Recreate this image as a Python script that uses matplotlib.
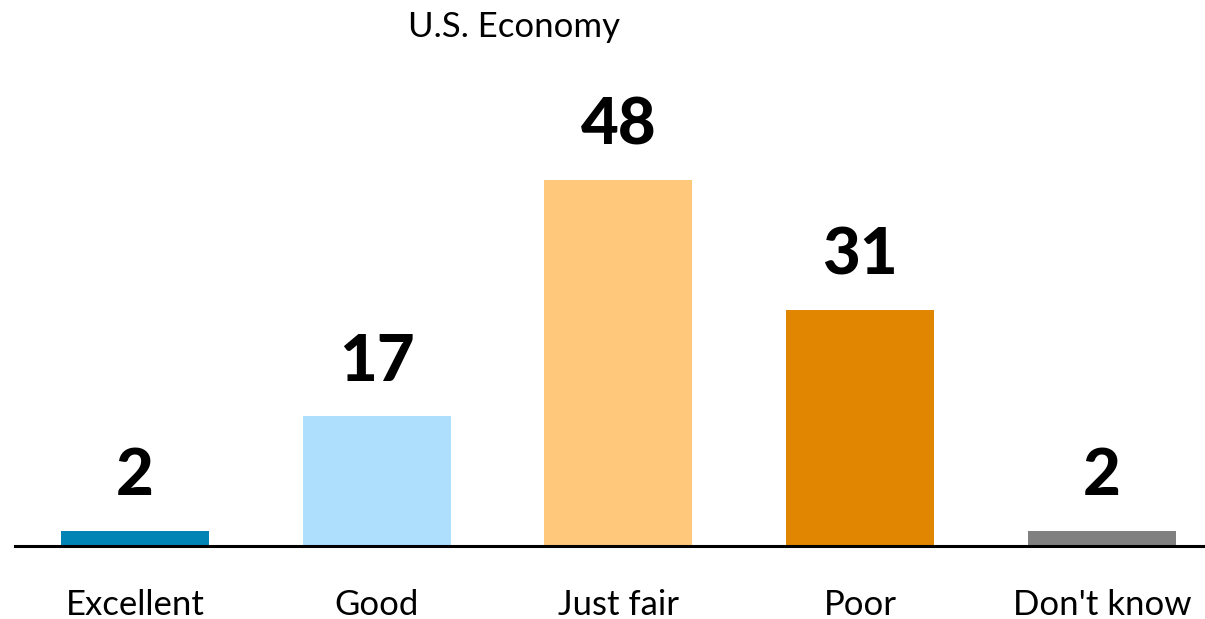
import matplotlib
matplotlib.use("Agg")
import matplotlib.pyplot as plt

categories = ["Excellent", "Good", "Just fair", "Poor", "Don't know"]
values = [2, 17, 48, 31, 2]
colors = ["#0084B6", "#AEDFFD", "#FFC87A", "#E08600", "#808080"]

plt.rcParams['font.family'] = ['Lato', 'DejaVu Sans']

fig = plt.figure(figsize=(12.05, 6.19), dpi=100)
ax = fig.add_axes([15 / 1205, 73 / 619, 1 - 15 / 1205, 546 / 619])

x = list(range(len(categories)))
bars = ax.bar(x, values, width=0.612, color=colors)

for xi, v in zip(x, values):
    ax.text(xi, v + 3.2, str(v), ha='center', va='bottom',
            fontsize=47, fontweight='black', color='black')

ax.set_xlim(-0.496, 4.426)
ax.set_ylim(0, 71.6)

for s in ['top', 'right', 'left']:
    ax.spines[s].set_visible(False)
ax.spines['bottom'].set_linewidth(2.2)
ax.spines['bottom'].set_color('black')
ax.set_yticks([])
ax.set_xticks(x)
ax.set_xticklabels(categories, fontsize=25)
ax.tick_params(axis='x', length=0, pad=31)

fig.text(514 / 1205, 1 - 27 / 619, "U.S. Economy", ha='center', va='center', fontsize=25)

fig.savefig("out.png", dpi=100)
